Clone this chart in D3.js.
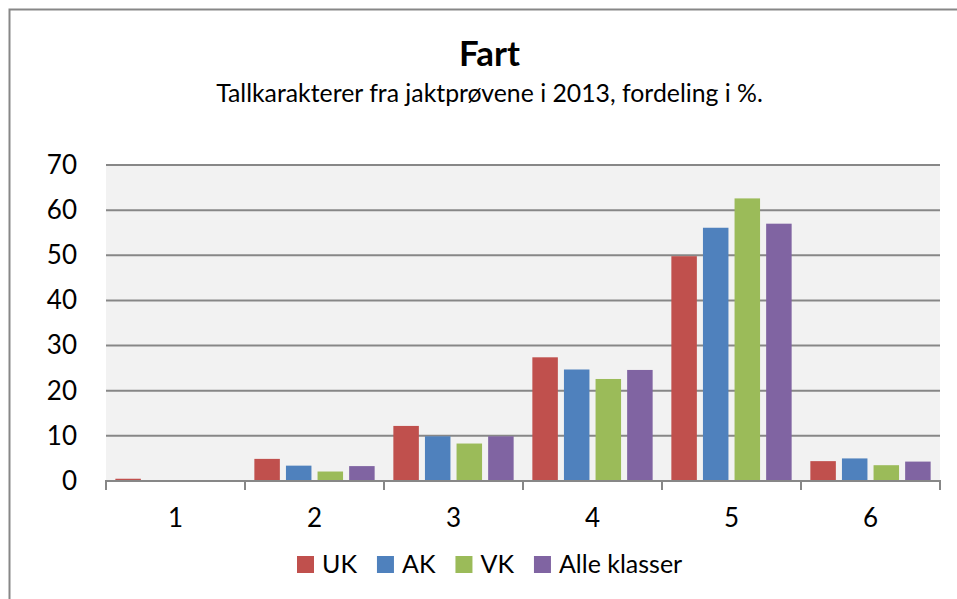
<!DOCTYPE html>
<html><head><meta charset="utf-8">
<script src="https://cdn.jsdelivr.net/npm/d3@7"></script>
<style>html,body{margin:0;padding:0;background:#fff;overflow:hidden}</style>
</head><body>
<svg id="c" width="957" height="599"></svg>
<script>
const categories = ["1","2","3","4","5","6"];
const seriesNames = ["UK","AK","VK","Alle klasser"];
const UK   = [0.5, 4.9, 12.2, 27.4, 49.8, 4.4];
const AK   = [0.0, 3.4, 9.9, 24.7, 56.1, 5.0];
const VK   = [0.0, 2.1, 8.3, 22.6, 62.6, 3.5];
const ALLE = [0.2, 3.3, 9.9, 24.6, 57.0, 4.3];
const yTicks = [0,10,20,30,40,50,60,70];
const colors = ["#C0504D","#4F81BD","#9BBB59","#8064A2"];
const title = "Fart";
const subtitle = "Tallkarakterer fra jaktprøvene i 2013, fordeling i %.";

const values = [UK, AK, VK, ALLE];
const font = "Lato, 'Open Sans', sans-serif";
const svg = d3.select("#c");

// outer chart border
svg.append("rect").attr("x",9.5).attr("y",9.5).attr("width",1000).attr("height",1000)
  .attr("fill","#fff").attr("stroke","#878787").attr("stroke-width",2);

const L=106, R=940, T=165, B=481;
const x0 = d3.scaleBand().domain(categories).range([L,R]).padding(0);
const x1 = d3.scaleBand().domain(seriesNames).range([0,x0.bandwidth()]).paddingInner(0.193).paddingOuter(0.296);
const y = d3.scaleLinear().domain([0,70]).range([B,T]);

svg.append("rect").attr("x",L).attr("y",T).attr("width",R-L).attr("height",B-T).attr("fill","#F2F2F2");

// gridlines
svg.append("g").selectAll("line").data(yTicks.filter(d=>d>0)).join("line")
  .attr("x1",L).attr("x2",R).attr("y1",d=>y(d)).attr("y2",d=>y(d))
  .attr("stroke","#878787").attr("stroke-width",2);

// bars
categories.forEach((c,ci)=>{
  seriesNames.forEach((s,si)=>{
    const v = values[si][ci];
    svg.append("rect")
      .attr("x", x0(c)+x1(s)).attr("width", x1.bandwidth())
      .attr("y", y(v)).attr("height", y(0)-y(v))
      .attr("fill", colors[si]);
  });
});

// x axis
const xa = svg.append("g").attr("transform",`translate(0,${B})`)
  .call(d3.axisBottom(x0).tickSize(0).tickPadding(28));
xa.select(".domain").remove();
xa.selectAll("text").attr("font-family",font).attr("font-size",26).attr("fill","#000");
svg.append("line").attr("x1",L-1).attr("x2",R+1).attr("y1",B).attr("y2",B).attr("stroke","#878787").attr("stroke-width",2);
const bounds = categories.map(c=>x0(c)).concat([R]);
svg.append("g").selectAll("line").data(bounds).join("line")
  .attr("x1",d=>d).attr("x2",d=>d).attr("y1",B).attr("y2",B+9)
  .attr("stroke","#878787").attr("stroke-width",2);

// y axis labels
const ya = svg.append("g").attr("transform",`translate(${L},0)`)
  .call(d3.axisLeft(y).tickValues(yTicks).tickSize(0).tickPadding(29));
ya.select(".domain").remove();
ya.selectAll("text").attr("font-family",font).attr("font-size",26).attr("fill","#000");

function fitText(sel, target){
  const w = sel.node().getComputedTextLength();
  const fs = parseFloat(sel.attr("font-size"));
  sel.attr("font-size", fs*target/w);
}
const cx = 489.5;
const t = svg.append("text").attr("x",cx).attr("y",66).attr("text-anchor","middle")
  .attr("font-family",font).attr("font-weight","bold").attr("font-size",30).text(title);
fitText(t, 61);
const st = svg.append("text").attr("x",cx).attr("y",102).attr("text-anchor","middle")
  .attr("font-family",font).attr("font-size",20).text(subtitle);
fitText(st, 547);

// legend
const lg = svg.append("g");
let xpos = 297;
seriesNames.forEach((s,i)=>{
  const g = lg.append("g");
  g.append("rect").attr("x",xpos).attr("y",556).attr("width",17).attr("height",17).attr("fill",colors[i]);
  const tx = g.append("text").attr("x",xpos+25).attr("y",573).attr("font-family",font).attr("font-size",25).text(s);
  xpos += 25 + tx.node().getComputedTextLength() + 20;
});
</script>
</body></html>
